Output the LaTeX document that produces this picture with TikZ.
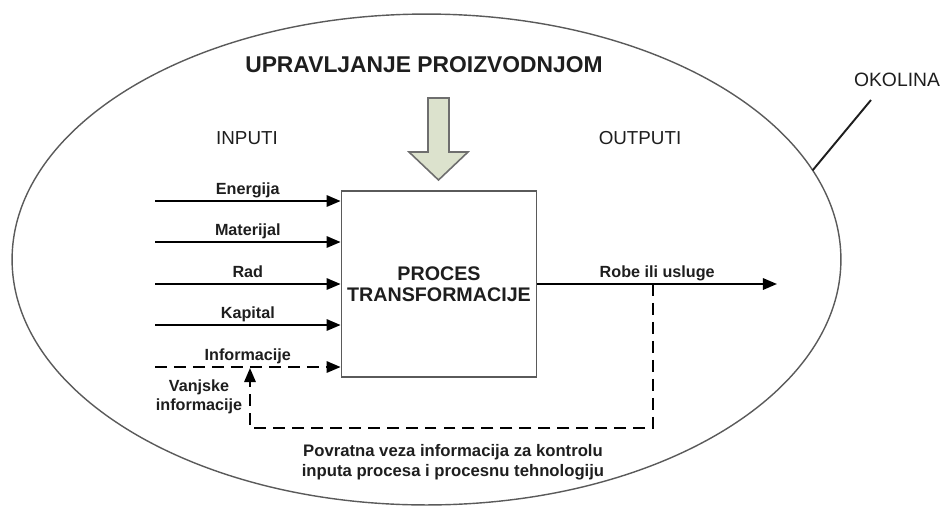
\documentclass[tikz,border=0pt]{standalone}
\usepackage{fontspec}
\setmainfont{Liberation Sans}
\usepackage{xcolor}
\definecolor{textdark}{HTML}{1E1E1E}
\definecolor{linegray}{HTML}{5A5A5A}
\definecolor{arrowfill}{HTML}{DCE2CD}
\definecolor{arrowedge}{HTML}{6E6E6E}
\usetikzlibrary{shapes.geometric,arrows.meta,positioning,calc}

\begin{document}
\begin{tikzpicture}[x=0.02cm, y=-0.02cm,
    lbl/.style={font=\bfseries\fontsize{9.2}{11}\selectfont, text=textdark},
    edgelbl/.style={lbl, text depth=2pt, inner sep=1.4pt},
    head/.style={font=\fontsize{10.7}{13}\selectfont, text=textdark},
    flow/.style={line width=1.1pt, -{Triangle[length=8pt,width=6.5pt]}},
    fbline/.style={line width=1.1pt, dash pattern=on 6.8pt off 4pt}]
  \useasboundingbox (0,0) rectangle (941,508);

  % Okolina
  \node[ellipse, draw=linegray, line width=0.8pt, minimum width=16.58cm, minimum height=9.82cm, inner sep=0pt, outer sep=0pt] (okol) at (426.5,259.5) {};
  \node[head, font=\fontsize{11}{13}\selectfont] (okollbl) at (897,80) {OKOLINA};
  \coordinate (okoltip) at (871,100);
  \draw[textdark, line width=1.1pt] (okol.13.9) -- (okoltip);

  % Upravljanje
  \node[font=\bfseries\fontsize{13}{15}\selectfont, text=textdark] (naslov) at (424,65) {UPRAVLJANJE PROIZVODNJOM};
  \draw[draw=arrowedge, fill=arrowfill, line width=0.9pt] (428,98) -- (449,98) -- (449,152) -- (468,152) -- (438.5,180) -- (409,152) -- (428,152) -- cycle;

  \node[head] (inputi) at (247,138) {INPUTI};
  \node[head] (outputi) at (640,138) {OUTPUTI};

  % Proces
  \node[draw=linegray, line width=0.8pt, fill=white, minimum width=3.88cm, minimum height=3.72cm, align=center, font=\bfseries\fontsize{11.2}{12}\selectfont, text=textdark] (proces) at (439,284) {PROCES\\TRANSFORMACIJE};

  % Inputi
  \coordinate (energ) at (155,201);
  \coordinate (mater) at (155,242);
  \coordinate (rad) at (155,284);
  \coordinate (kapit) at (155,325);
  \coordinate (inform) at (155,367);
  \draw[flow] (energ) -- (energ -| proces.west) node[edgelbl, midway, above] (energlbl) {Energija};
  \draw[flow] (mater) -- (mater -| proces.west) node[edgelbl, midway, above] (materlbl) {Materijal};
  \draw[flow] (rad) -- (rad -| proces.west) node[edgelbl, midway, above] (radlbl) {Rad};
  \draw[flow] (kapit) -- (kapit -| proces.west) node[edgelbl, midway, above] (kapitlbl) {Kapital};
  \draw[flow, fbline] (inform) -- (inform -| proces.west) node[edgelbl, midway, above] (informlbl) {Informacije};

  % Outputi
  \coordinate (robeend) at (777,284);
  \draw[flow] (proces.east) -- (robeend) node[edgelbl, midway, above] (robelbl) {Robe ili usluge};

  % Povratna veza
  \coordinate (fbtop) at (653,284);
  \coordinate (fbcorner) at (250,428);
  \coordinate (vanjtip) at (250,368);
  \draw[fbline, -{Triangle[length=8pt,width=6.5pt]}] (fbtop) |- (fbcorner) -- (vanjtip);
  \node[lbl, align=center] (vanjlbl) at (199,397) {Vanjske\\informacije};
  \node[lbl, align=center, font=\bfseries\fontsize{9.5}{11.3}\selectfont] (povratlbl) at (453,462) {Povratna veza informacija za kontrolu\\inputa procesa i procesnu tehnologiju};
\end{tikzpicture}
\end{document}
